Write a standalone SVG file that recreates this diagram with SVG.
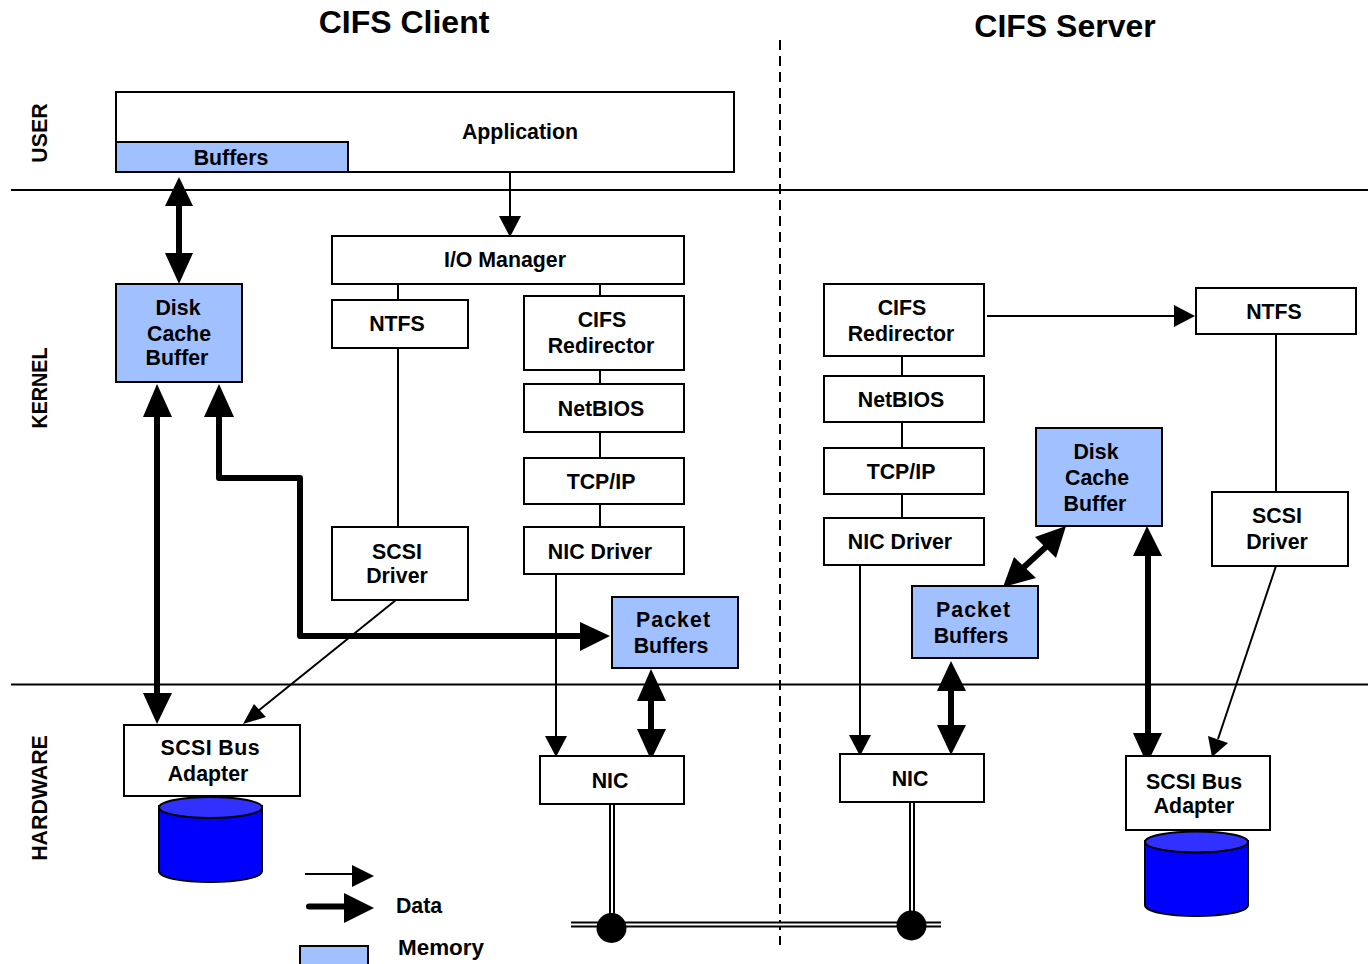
<svg xmlns="http://www.w3.org/2000/svg" width="1368" height="964" viewBox="0 0 1368 964">
<style>
text{font-family:"Liberation Sans",Arial,sans-serif;font-weight:bold;fill:#000;font-size:21.33px;text-anchor:middle}
.t{font-size:32px}
.b{fill:#fff;stroke:#000;stroke-width:2}
.m{fill:#a0c0ff;stroke:#000;stroke-width:2}
.l{fill:none;stroke:#000;stroke-width:2}
.h{fill:none;stroke:#000;stroke-width:6}
.hd{fill:#000;stroke:none}
.d1{fill:#0000ff;stroke:#000;stroke-width:2}
.cyl{fill:#3030ff;stroke:#000;stroke-width:2}
.wh{fill:none;stroke:#fff;stroke-width:2}
.bl{fill:none;stroke:#000;stroke-width:6}
</style>
<rect width="1368" height="964" fill="#fff"/>
<g id="labels">
<text class="t" x="404" y="33">CIFS Client</text>
<text class="t" x="1065" y="37">CIFS Server</text>
<text transform="translate(47,133) rotate(-90)">USER</text>
<text transform="translate(47,388) rotate(-90)" textLength="81" lengthAdjust="spacingAndGlyphs">KERNEL</text>
<text transform="translate(47,798) rotate(-90)">HARDWARE</text>
</g>
<g id="connectors">
<path class="l" d="M11 190H1368M11 684.500H1368"/>
<path class="l" d="M780 40V945" stroke-dasharray="10 6"/>
<path class="l" d="M510 172V218M398 284V300M398 348V527M600 284V296M600 370V384M600 432V458M600 504V527M556 574V738M902 356V376M902 422V448M902 494V518M860 565V737M987 316H1176M1276 334V492M1276 566L1218 739M396 600L258 711"/>
<path class="hd" d="M499 216H521L510 237Z"/>
<path class="hd" d="M545 736H567L556 757Z"/>
<path class="hd" d="M849 735H871L860 756Z"/>
<path class="hd" d="M1174 305V327L1195 316Z"/>
<path class="hd" d="M1208 736L1228 743L1212 757Z"/>
<path class="hd" d="M243 724L254 704L266 717Z"/>
<path class="h" d="M179 205V256M157 412V696M651 700V731M951 690V726M1148 556V736M1023 568L1048 545"/>
<path class="h" d="M219 414V478H300V636H582" stroke-linejoin="round"/>
<path class="hd" d="M179 177L193 206H165ZM179 284L193 253H165Z"/>
<path class="hd" d="M157 384L172 417H143ZM157 724L172 693H143Z"/>
<path class="hd" d="M219 384L234 417H204ZM610 636L580 622V651Z"/>
<path class="hd" d="M651 669L666 701H637ZM651 760L666 729H637Z"/>
<path class="hd" d="M951 661L966 691H937ZM951 755L966 725H937Z"/>
<path class="hd" d="M1147 526L1162 556H1133ZM1147 764L1162 733H1133Z"/>
<path class="hd" d="M1066 526L1056 558L1035 537ZM1003 587L1014 557L1036 578Z"/>
<path class="bl" d="M612 804V925M912 803V925M571 924.500H941"/>
<path class="wh" d="M612 804V925M912 803V925M571 924.500H941"/>
<circle cx="611.500" cy="928" r="15" fill="#000"/>
<circle cx="911.500" cy="925.500" r="15" fill="#000"/>
</g>
<g id="application"><rect class="b" x="116" y="92" width="618" height="80"/><text x="520" y="139">Application</text></g>
<g id="buffers"><rect class="m" x="116" y="142" width="232" height="30"/><text x="231" y="164.500">Buffers</text></g>
<g id="io-manager"><rect class="b" x="332" y="236" width="352" height="48"/><text x="505" y="267">I/O Manager</text></g>
<g id="disk-cache-client"><rect class="m" x="116" y="284" width="126" height="98"/><text x="178" y="315">Disk</text><text x="179" y="341">Cache</text><text x="177" y="365">Buffer</text></g>
<g id="ntfs-client"><rect class="b" x="332" y="300" width="136" height="48"/><text x="397" y="331">NTFS</text></g>
<g id="cifs-client"><rect class="b" x="524" y="296" width="160" height="74"/><text x="602" y="327">CIFS</text><text x="601" y="353">Redirector</text></g>
<g id="netbios-client"><rect class="b" x="524" y="384" width="160" height="48"/><text x="601" y="416">NetBIOS</text></g>
<g id="tcpip-client"><rect class="b" x="524" y="458" width="160" height="46"/><text x="601" y="489">TCP/IP</text></g>
<g id="nic-driver-client"><rect class="b" x="524" y="527" width="160" height="47"/><text x="600" y="559">NIC Driver</text></g>
<g id="scsi-driver-client"><rect class="b" x="332" y="527" width="136" height="73"/><text x="397" y="559">SCSI</text><text x="397" y="583">Driver</text></g>
<g id="packet-client"><rect class="m" x="612" y="597" width="126" height="71"/><text x="673" y="627" textLength="74">Packet</text><text x="671" y="653">Buffers</text></g>
<g id="scsi-adapter-client"><rect class="b" x="124" y="725" width="176" height="71"/><text x="210" y="755" textLength="99">SCSI Bus</text><text x="208" y="781">Adapter</text></g>
<g id="disk-client"><path class="d1" d="M159 806V871C159 878 182 882 210 882S262 878 262 871V806Z"/><ellipse class="cyl" cx="210.500" cy="807.500" rx="51.500" ry="10.500"/></g>
<g id="nic-client"><rect class="b" x="540" y="756" width="144" height="48"/><text x="610" y="788">NIC</text></g>
<g id="cifs-server"><rect class="b" x="824" y="284" width="160" height="72"/><text x="902" y="315">CIFS</text><text x="901" y="341">Redirector</text></g>
<g id="netbios-server"><rect class="b" x="824" y="376" width="160" height="46"/><text x="901" y="407">NetBIOS</text></g>
<g id="tcpip-server"><rect class="b" x="824" y="448" width="160" height="46"/><text x="901" y="479">TCP/IP</text></g>
<g id="nic-driver-server"><rect class="b" x="824" y="518" width="160" height="47"/><text x="900" y="549">NIC Driver</text></g>
<g id="ntfs-server"><rect class="b" x="1196" y="288" width="160" height="46"/><text x="1274" y="319">NTFS</text></g>
<g id="disk-cache-server"><rect class="m" x="1036" y="428" width="126" height="98"/><text x="1096" y="459">Disk</text><text x="1097" y="485">Cache</text><text x="1095" y="511">Buffer</text></g>
<g id="scsi-driver-server"><rect class="b" x="1212" y="492" width="136" height="74"/><text x="1277" y="523">SCSI</text><text x="1277" y="549">Driver</text></g>
<g id="packet-server"><rect class="m" x="912" y="586" width="126" height="72"/><text x="973" y="617" textLength="74">Packet</text><text x="971" y="643">Buffers</text></g>
<g id="nic-server"><rect class="b" x="840" y="754" width="144" height="48"/><text x="910" y="786">NIC</text></g>
<g id="scsi-adapter-server"><rect class="b" x="1126" y="756" width="144" height="74"/><text x="1194" y="789">SCSI Bus</text><text x="1194" y="813">Adapter</text></g>
<g id="disk-server"><path class="d1" d="M1145 841V905C1145 912 1168 916 1196 916S1248 912 1248 905V841Z"/><ellipse class="cyl" cx="1196.500" cy="842" rx="51.500" ry="10.500"/></g>
<g id="legend">
<path class="l" d="M305 874H354"/><path class="hd" d="M352 865V887L374 876Z"/>
<path class="l" d="M309 906.500H346" stroke-linecap="round" style="stroke-width:6"/><path class="hd" d="M344 893V923L374 908Z"/>
<text x="419" y="913">Data</text>
<rect class="m" x="300" y="946" width="68" height="24"/>
<text x="441" y="955" textLength="86" lengthAdjust="spacingAndGlyphs">Memory</text>
</g>
</svg>
